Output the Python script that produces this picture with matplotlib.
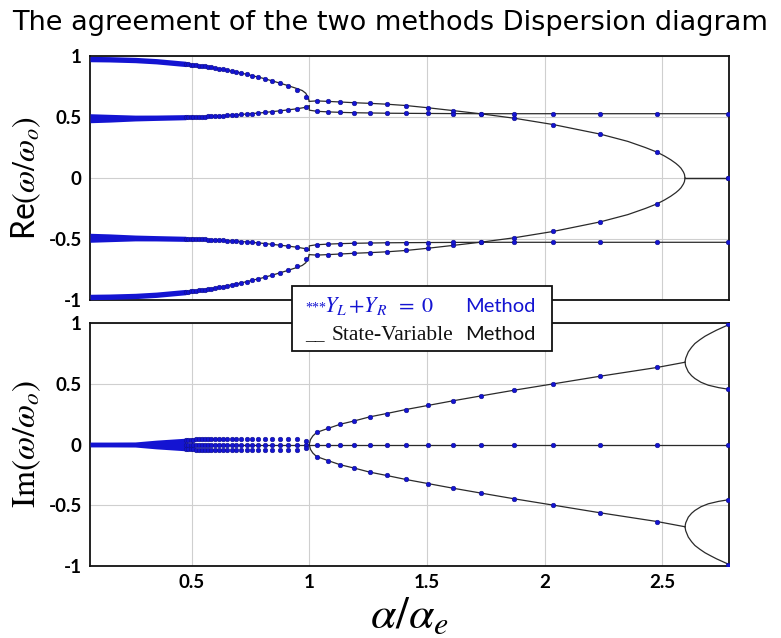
import numpy as np
import matplotlib
matplotlib.use('Agg')
import matplotlib.pyplot as plt
from matplotlib.patches import Rectangle

plt.rcParams['font.family'] = ['Lato', 'DejaVu Sans']
plt.rcParams['mathtext.fontset'] = 'stix'

# ---------------- data ----------------
# alpha/alpha_e positions of the "Y_L+Y_R=0" solutions (blue dots)
alpha_pre = [0.475, 0.485, 0.496, 0.507, 0.518, 0.530, 0.543, 0.556, 0.570, 0.584,
             0.600, 0.616, 0.633, 0.651, 0.670, 0.690, 0.711, 0.734, 0.758, 0.784,
             0.812, 0.842, 0.874, 0.908, 0.946, 0.986]
alpha_post = [1.031, 1.079, 1.132, 1.191, 1.256, 1.329, 1.411, 1.503, 1.609, 1.730,
              1.871, 2.037, 2.236, 2.478, 2.778]

# Re(w/wo) of the dots, positive half (mirror gives negative half)
re_dot_hi_pre = [0.935, 0.933, 0.930, 0.927, 0.925, 0.922, 0.918, 0.914, 0.910, 0.906,
                 0.901, 0.896, 0.890, 0.884, 0.877, 0.869, 0.860, 0.850, 0.839, 0.827,
                 0.813, 0.797, 0.778, 0.758, 0.720, 0.660]
re_dot_lo_pre = [0.499, 0.499, 0.500, 0.501, 0.501, 0.502, 0.503, 0.504, 0.505, 0.506,
                 0.508, 0.510, 0.511, 0.513, 0.516, 0.518, 0.521, 0.524, 0.528, 0.532,
                 0.537, 0.543, 0.550, 0.558, 0.567, 0.585]
re_dot_hi_post = [0.632, 0.628, 0.623, 0.617, 0.612, 0.605, 0.594, 0.576, 0.553, 0.526,
                  0.490, 0.438, 0.360, 0.212, 0.000]
re_dot_lo_post = [0.547, 0.542, 0.538, 0.535, 0.533, 0.531, 0.530, 0.529, 0.528, 0.527,
                  0.527, 0.527, 0.527, 0.527, 0.527]

# Im(w/wo) of the dots, positive half
im_dot_outer_pre = [0.036, 0.038, 0.040, 0.041, 0.042, 0.043, 0.044, 0.045, 0.046, 0.047,
                    0.048, 0.048, 0.048, 0.048, 0.048, 0.048, 0.048, 0.048, 0.048, 0.048,
                    0.048, 0.048, 0.048, 0.047, 0.045, 0.028]
im_dot_post = [0.099, 0.132, 0.167, 0.194, 0.227, 0.255, 0.288, 0.321, 0.359, 0.400,
               0.447, 0.499, 0.562, 0.634]
im_dot_end = [0.990, 0.455]

# dense part of the dot clouds (dots merge into a band)
band_alpha = [0.068, 0.15, 0.26, 0.35, 0.475]
band_re_hi = [0.975, 0.973, 0.967, 0.957, 0.935]
band_re_hi_w = [0.022, 0.022, 0.022, 0.022, 0.022]
band_re_lo = [0.490, 0.490, 0.4915, 0.494, 0.4985]
band_re_lo_w = [0.037, 0.032, 0.024, 0.022, 0.021]
band_im_w = [0.020, 0.020, 0.021, 0.036, 0.052]

# state-variable method (black curves), positive half
sv_A_x = [0.068, 0.2, 0.3, 0.4, 0.5, 0.6, 0.7, 0.8, 0.85, 0.9, 0.94, 0.97, 0.985, 0.995, 1.0]
sv_A_y = [0.975, 0.971, 0.963, 0.949, 0.929, 0.901, 0.865, 0.819, 0.792, 0.763, 0.738, 0.717, 0.695, 0.660, 0.628]
sv_B_x = [0.068, 0.3, 0.5, 0.6, 0.7, 0.8, 0.9, 0.95, 0.98, 0.995, 1.0]
sv_B_y = [0.490, 0.492, 0.500, 0.508, 0.519, 0.535, 0.556, 0.568, 0.578, 0.588, 0.592]
sv_C_x = [1.0, 1.031, 1.079, 1.132, 1.191, 1.256, 1.329, 1.411, 1.503, 1.609, 1.730, 1.871,
          2.037, 2.236, 2.354, 2.428, 2.478, 2.51, 2.536, 2.558, 2.570, 2.580, 2.590, 2.5946, 2.597]
sv_C_y = [0.628, 0.632, 0.628, 0.623, 0.617, 0.612, 0.605, 0.594, 0.576, 0.553, 0.526, 0.490,
          0.438, 0.360, 0.300, 0.250, 0.212, 0.180, 0.150, 0.120, 0.100, 0.080, 0.050, 0.030, 0.0]
sv_C0_x = [2.597, 2.778]
sv_C0_y = [0.0, 0.0]
sv_D_x = [1.0, 1.0, 1.031, 1.079, 1.132, 1.191, 1.256, 1.329, 1.411, 1.503, 1.609, 1.730, 2.778]
sv_D_y = [0.592, 0.556, 0.547, 0.542, 0.538, 0.535, 0.533, 0.531, 0.530, 0.529, 0.528, 0.527, 0.527]

sv_im0_x = [0.068, 2.778]
sv_im0_y = [0.0, 0.0]
sv_E_x = [1.0, 1.005, 1.015, 1.031, 1.079, 1.132, 1.191, 1.256, 1.329, 1.411, 1.503, 1.609,
          1.730, 1.871, 2.037, 2.236, 2.478, 2.597]
sv_E_y = [0.0, 0.040, 0.070, 0.099, 0.132, 0.167, 0.194, 0.227, 0.255, 0.288, 0.321, 0.359,
          0.400, 0.447, 0.499, 0.562, 0.634, 0.677]
sv_F_x = [2.597, 2.600, 2.611, 2.625, 2.639, 2.660, 2.682, 2.705, 2.731, 2.755, 2.781]
sv_F_y = [0.677, 0.710, 0.762, 0.800, 0.831, 0.862, 0.891, 0.915, 0.941, 0.962, 0.985]
sv_G_x = [2.597, 2.600, 2.611, 2.625, 2.639, 2.665, 2.696, 2.740, 2.781]
sv_G_y = [0.677, 0.645, 0.598, 0.566, 0.543, 0.512, 0.488, 0.468, 0.455]

x_ticks = [0.5, 1, 1.5, 2, 2.5]
x_tick_labels = ['0.5', '1', '1.5', '2', '2.5']
y_ticks = [-1, -0.5, 0, 0.5, 1]
y_tick_labels = ['-1', '-0.5', '0', '0.5', '1']

# ---------------- figure ----------------
W, H = 781, 638
fig = plt.figure(figsize=(W / 100, H / 100), dpi=100)

def fx(px):
    return px / W

def fy(py):
    return 1 - py / H

ax1 = fig.add_axes([fx(90), fy(300), fx(729) - fx(90), fy(56) - fy(300)])
ax2 = fig.add_axes([fx(90), fy(566), fx(729) - fx(90), fy(323) - fy(566)])

BLUE = '#1414d2'
DOT_EC = '#10108c'
LINE = '#2a2a2a'
dot_kw = dict(ls='none', marker='o', ms=3.3, color=BLUE, mec=DOT_EC, mew=0.4, zorder=4)
line_kw = dict(color=LINE, lw=0.9, zorder=3)


def mirror(v):
    return [-t for t in v]


for ax in (ax1, ax2):
    ax.set_xlim(band_alpha[0], 2.784)
    ax.set_ylim(-1, 1)
    ax.set_xticks(x_ticks)
    ax.set_yticks(y_ticks)
    ax.set_yticklabels(y_tick_labels, fontsize=13.5, fontweight='bold')
    ax.grid(True, color='#cfcfcf', lw=0.8)
    ax.tick_params(length=0, pad=6)
    for s in ax.spines.values():
        s.set_linewidth(1.3)
        s.set_color('#111111')
ax1.set_xticklabels([])
ax2.set_xticklabels(x_tick_labels, fontsize=13.5, fontweight='bold')
ax2.tick_params(axis='x', pad=6)

# ---- top: real part ----
for sgn in (1, -1):
    f = (lambda v: v) if sgn == 1 else mirror
    for xs, ys in ((sv_A_x, sv_A_y), (sv_B_x, sv_B_y), (sv_C_x, sv_C_y),
                   (sv_C0_x, sv_C0_y), (sv_D_x, sv_D_y)):
        ax1.plot(xs, f(ys), **line_kw)
    c_hi = np.array(f(band_re_hi))
    w_hi = np.array(band_re_hi_w)
    ax1.fill_between(band_alpha, c_hi - w_hi, c_hi + w_hi, color=BLUE, lw=0, zorder=4)
    c_lo = np.array(f(band_re_lo))
    w_lo = np.array(band_re_lo_w)
    ax1.fill_between(band_alpha, c_lo - w_lo, c_lo + w_lo, color=BLUE, lw=0, zorder=4)
    ax1.plot(alpha_pre, f(re_dot_hi_pre), **dot_kw)
    ax1.plot(alpha_pre, f(re_dot_lo_pre), **dot_kw)
    ax1.plot(alpha_post, f(re_dot_hi_post), **dot_kw)
    ax1.plot(alpha_post, f(re_dot_lo_post), **dot_kw)

# ---- bottom: imaginary part ----
ax2.plot(sv_im0_x, sv_im0_y, **line_kw)
w_im = np.array(band_im_w)
ax2.fill_between(band_alpha, -w_im, w_im, color=BLUE, lw=0, zorder=4)
ax2.plot(alpha_pre, [0] * len(alpha_pre), **dot_kw)
ax2.plot(alpha_post, [0] * len(alpha_post), **dot_kw)
for sgn in (1, -1):
    f = (lambda v: v) if sgn == 1 else mirror
    for xs, ys in ((sv_E_x, sv_E_y), (sv_F_x, sv_F_y), (sv_G_x, sv_G_y)):
        ax2.plot(xs, f(ys), **line_kw)
    ax2.plot(alpha_pre, f(im_dot_outer_pre), **dot_kw)
    ax2.plot(alpha_post[:-1], f(im_dot_post), **dot_kw)
    ax2.plot([alpha_post[-1]] * 2, f(im_dot_end), **dot_kw)

# ---- labels ----
ax1.set_ylabel(r'Re$(\omega/\omega_o)$', fontsize=23, labelpad=4)
ax2.set_ylabel(r'$\mathrm{Im}(\omega/\omega_o)$', fontsize=24, labelpad=4)
ax2.set_xlabel(r'$\alpha/\alpha_e$', fontsize=33, labelpad=2)
fig.text(0.5, fy(23), 'The agreement of the two methods Dispersion diagram',
         ha='center', va='center', fontsize=19.5, family=['DejaVu Sans'])

# ---- custom legend box ----
fig.add_artist(Rectangle((fx(292), fy(351)), fx(552) - fx(292), fy(286) - fy(351),
                         transform=fig.transFigure, facecolor='white',
                         edgecolor='#111111', lw=1.3, zorder=10))
fig.text(fx(305), fy(312), '***', color=BLUE, fontsize=10, family='Liberation Serif',
         va='baseline', zorder=11)
fig.text(fx(324), fy(312), r'$Y_L\,{+}Y_R\;\;=\;0$', color=BLUE, fontsize=16,
         va='baseline', zorder=11)
fig.text(fx(465), fy(312), 'Method', color=BLUE, fontsize=14.5, va='baseline', zorder=11)
fig.text(fx(305), fy(340), '__', color='black', fontsize=14, family='Liberation Serif',
         va='baseline', zorder=11)
fig.text(fx(332), fy(339.5), 'State-Variable', color='#111111', fontsize=15.5,
         family='Liberation Serif', va='baseline', zorder=11)
fig.text(fx(465), fy(339.5), 'Method', color='#111111', fontsize=14.5, va='baseline', zorder=11)

fig.savefig('out.png', dpi=100)
